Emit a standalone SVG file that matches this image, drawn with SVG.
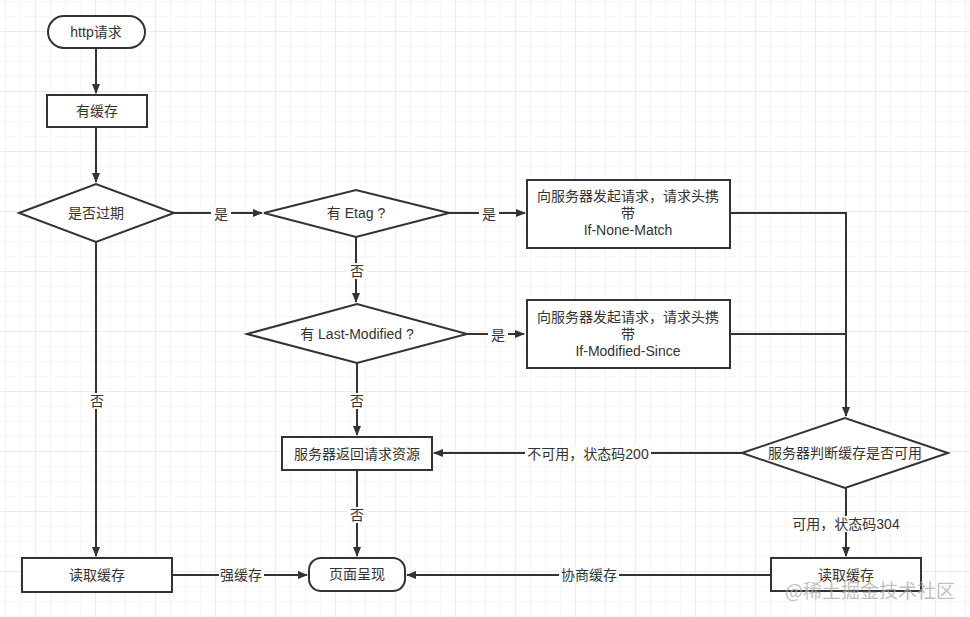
<svg xmlns="http://www.w3.org/2000/svg" width="970" height="617" viewBox="0 0 970 617">
<style>
.n{fill:#fff;stroke:#333;stroke-width:2}
.t{font-family:"Liberation Sans","Noto Sans CJK SC",sans-serif;font-size:14px;fill:#333;text-anchor:middle;dominant-baseline:central}
.e{fill:none;stroke:#333;stroke-width:2}
.lb{fill:#fff}
</style>
<defs>
<pattern id="gmin" x="5" y="1" width="15" height="15" patternUnits="userSpaceOnUse">
<path d="M0 0H15M0 0V15" fill="none" stroke="#efefef" stroke-width="1"/>
</pattern>
<pattern id="gmaj" x="35" y="31" width="60" height="60" patternUnits="userSpaceOnUse">
<path d="M0 0H60M0 0V60" fill="none" stroke="#e2e2e2" stroke-width="1"/>
</pattern>
<marker id="a" viewBox="0 0 10 8" refX="9" refY="4" markerWidth="10" markerHeight="8" markerUnits="userSpaceOnUse" orient="auto">
<path d="M0 0L10 4L0 8Z" fill="#333"/>
</marker>
</defs>
<rect width="970" height="617" fill="#fff"/>
<rect width="970" height="617" fill="url(#gmin)"/>
<rect width="970" height="617" fill="url(#gmaj)"/>

<g id="edges">
<path class="e" d="M96 48V93" marker-end="url(#a)"/>
<path class="e" d="M96 127V182" marker-end="url(#a)"/>
<path class="e" d="M174 213L262 213" marker-end="url(#a)"/>
<path class="e" d="M449 213H525" marker-end="url(#a)"/>
<path class="e" d="M356 237V302" marker-end="url(#a)"/>
<path class="e" d="M467 334H524" marker-end="url(#a)"/>
<path class="e" d="M357 363V435" marker-end="url(#a)"/>
<path class="e" d="M730 213H846V416" marker-end="url(#a)"/>
<path class="e" d="M730 334H846"/>
<path class="e" d="M742 453H434" marker-end="url(#a)"/>
<path class="e" d="M357 470V556" marker-end="url(#a)"/>
<path class="e" d="M846 488V556" marker-end="url(#a)"/>
<path class="e" d="M96 242V556" marker-end="url(#a)"/>
<path class="e" d="M172 575H307" marker-end="url(#a)"/>
<path class="e" d="M771 575H407" marker-end="url(#a)"/>
<g>
<rect class="lb" x="211" y="206" width="20" height="16"/><text class="t" x="221" y="214">是</text>
<rect class="lb" x="479" y="206" width="20" height="16"/><text class="t" x="489" y="214">是</text>
<rect class="lb" x="347" y="263" width="20" height="16"/><text class="t" x="357" y="271">否</text>
<rect class="lb" x="488" y="327" width="20" height="16"/><text class="t" x="498" y="335">是</text>
<rect class="lb" x="347" y="393" width="20" height="16"/><text class="t" x="357" y="401">否</text>
<rect class="lb" x="87" y="393" width="20" height="16"/><text class="t" x="97" y="401">否</text>
<rect class="lb" x="525" y="446" width="126" height="16"/><text class="t" x="588" y="454">不可用，状态码200</text>
<rect class="lb" x="347" y="507" width="20" height="16"/><text class="t" x="357" y="515">否</text>
<rect class="lb" x="789" y="516" width="115" height="16"/><text class="t" x="846" y="524">可用，状态码304</text>
<rect class="lb" x="219" y="567" width="45" height="16"/><text class="t" x="241" y="575">强缓存</text>
<rect class="lb" x="559" y="567" width="60" height="16"/><text class="t" x="589" y="575">协商缓存</text>
</g>
</g>

<g id="n1"><rect class="n" x="48" y="16" width="97" height="32" rx="16"/><text class="t" x="96" y="32">http请求</text></g>
<g id="n2"><rect class="n" x="47" y="95" width="100" height="32"/><text class="t" x="97" y="111">有缓存</text></g>
<g id="n3"><path class="n" d="M19 213L96 184L174 213L96 242Z"/><text class="t" x="96" y="213">是否过期</text></g>
<g id="n4"><path class="n" d="M264 213L356 190L449 213L356 237Z"/><text class="t" x="356" y="213">有 Etag ?</text></g>
<g id="n5"><rect class="n" x="527" y="180" width="203" height="68"/><text class="t" x="628" y="196">向服务器发起请求，请求头携</text><text class="t" x="628" y="213">带</text><text class="t" x="628" y="230">If-None-Match</text></g>
<g id="n6"><path class="n" d="M247 334L357 304L467 334L357 363Z"/><text class="t" x="357" y="334">有 Last-Modified ?</text></g>
<g id="n7"><rect class="n" x="527" y="300" width="203" height="68"/><text class="t" x="628" y="317">向服务器发起请求，请求头携</text><text class="t" x="628" y="334">带</text><text class="t" x="628" y="351">If-Modified-Since</text></g>
<g id="n8"><rect class="n" x="282" y="437" width="150" height="33"/><text class="t" x="357" y="454">服务器返回请求资源</text></g>
<g id="n9"><path class="n" d="M742 453L845 418L948 453L845 488Z"/><text class="t" x="845" y="453">服务器判断缓存是否可用</text></g>
<g id="n10"><rect class="n" x="22" y="558" width="150" height="34"/><text class="t" x="97" y="575">读取缓存</text></g>
<g id="n11"><rect class="n" x="309" y="558" width="96" height="33" rx="12"/><text class="t" x="357" y="574">页面呈现</text></g>
<g id="n12"><rect class="n" x="771" y="558" width="150" height="33"/><text class="t" x="846" y="575">读取缓存</text></g>

<text x="870" y="589" style="font-family:'Noto Sans CJK SC','Liberation Sans',sans-serif;font-size:19px;fill:#aaa;fill-opacity:0.75;text-anchor:middle;dominant-baseline:central">@稀土掘金技术社区</text>
</svg>
